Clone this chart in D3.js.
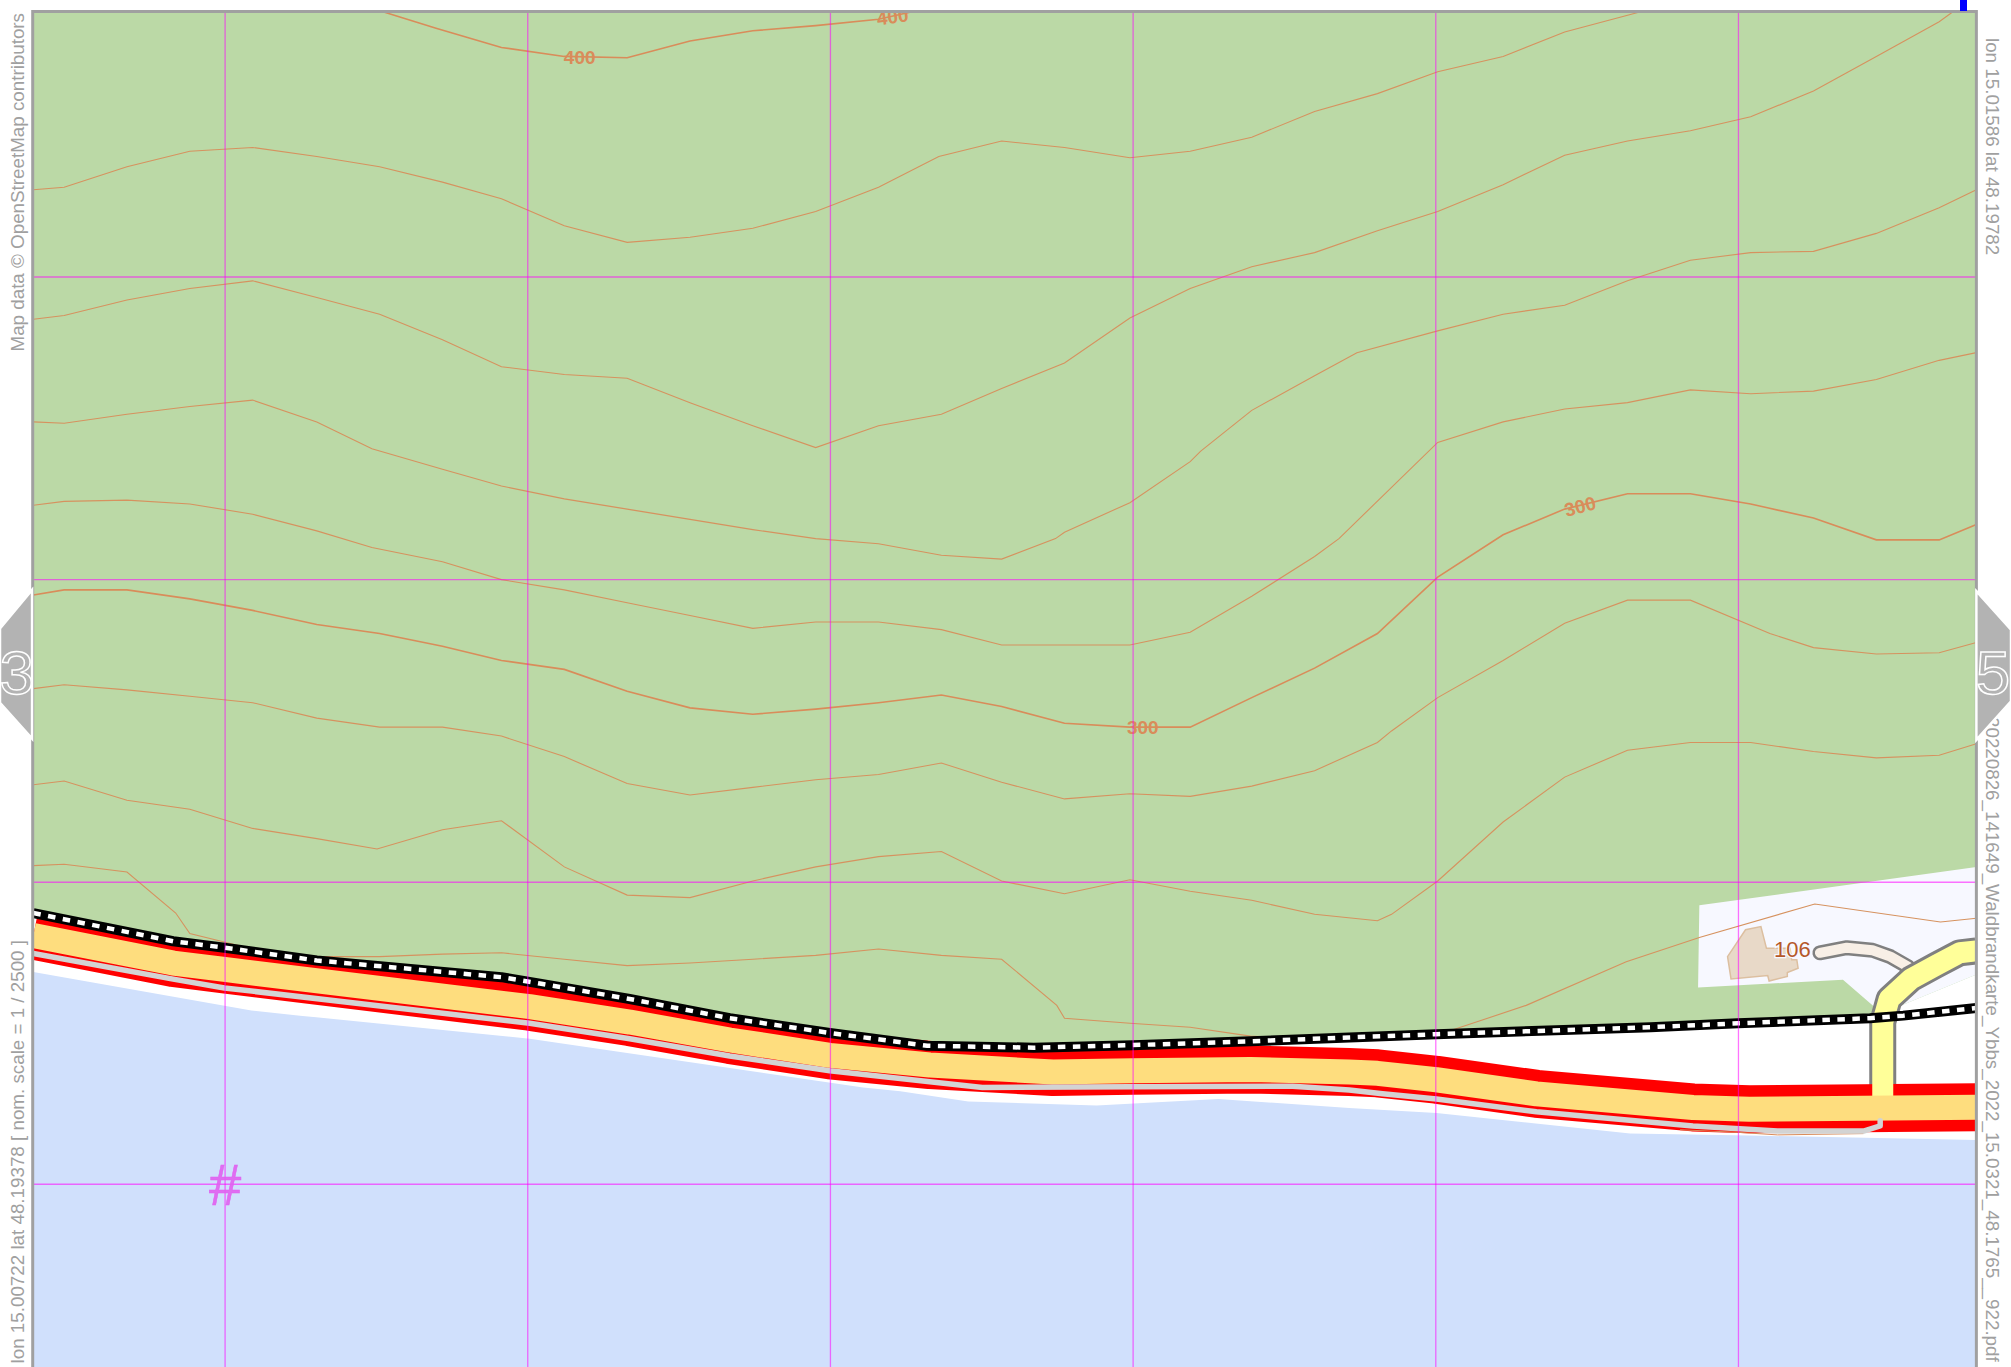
<!DOCTYPE html>
<html>
<head>
<meta charset="utf-8">
<script src="https://cdn.jsdelivr.net/npm/d3@7"></script>
<style>
  html, body { margin: 0; padding: 0; background: #fff; }
  svg { display: block; }
  text { font-family: "Liberation Sans", Arial, sans-serif; }
</style>
</head>
<body>
<svg id="map"></svg>
<script>
// all map data in sheet units
const sheetSize = [1568, 1066];
const frame = { left: 25.5, right: 1541, top: 9 };
const gridX = [175.5, 411.5, 647.5, 883.5, 1119.5, 1355.5];
const gridY = [216, 452, 688, 923.5];

const contourIndex = [
  [[298,9],[340,22],[391,37],[440,44],[489,45],[538,32],[587,24],[636,20],[685,15],[712,9]],
  [[26,464],[50,460],[99,460],[148,467],[197,476],[247,487],[296,494],[345,504],[391,515],[440,522],[489,539],[538,552],[587,557],[636,553],[685,548],[734,542],[781,551],[830,564],[881,567],[928,567],[976,544],[1025,521],[1074,494],[1121,450],[1172,417],[1220,397],[1269,385],[1318,385],[1365,393],[1414,404],[1463,421],[1512,421],[1541,409]]
];
const contourLines = [
  [[26,148],[50,146],[99,130],[148,118],[197,115],[247,122],[296,130],[345,142],[391,155],[440,176],[489,189],[538,185],[587,178],[636,165],[685,146],[732,122],[781,110],[830,115],[881,123],[928,118],[976,107],[1025,87],[1074,73],[1121,56],[1172,44],[1220,25],[1280,9]],
  [[26,249],[50,246],[99,234],[148,225],[197,219],[247,232],[296,245],[345,265],[391,286],[440,292],[489,295],[538,314],[587,332],[636,349],[685,332],[734,323],[781,303],[830,283],[881,248],[928,225],[976,208],[1025,197],[1074,180],[1121,165],[1172,144],[1220,121],[1269,110],[1318,102],[1365,91],[1414,71],[1463,44],[1512,17],[1523,9]],
  [[26,329],[50,330],[99,323],[148,317],[197,312],[247,329],[290,350],[345,366],[391,379],[440,389],[489,397],[538,405],[587,413],[636,420],[685,424],[734,433],[781,436],[823,420],[830,415],[881,392],[928,360],[936,352],[976,320],[1025,293],[1058,275],[1121,258],[1172,245],[1220,238],[1269,219],[1318,203],[1365,197],[1414,196],[1463,182],[1512,162],[1541,148]],
  [[26,394],[50,391],[99,390],[148,393],[197,401],[247,414],[290,427],[345,438],[391,452],[440,460],[489,470],[538,480],[587,490],[636,485],[685,485],[734,491],[781,503],[830,503],[881,503],[928,493],[976,465],[1025,434],[1044,420],[1121,345],[1172,329],[1220,319],[1269,314],[1318,304],[1365,307],[1414,305],[1463,296],[1512,281],[1541,275]],
  [[26,537],[50,534],[99,538],[148,543],[197,548],[247,560],[296,567],[345,567],[391,574],[440,590],[489,611],[538,620],[587,614],[636,608],[685,604],[734,595],[781,610],[830,623],[881,619],[928,621],[976,613],[1025,601],[1074,579],[1085,570],[1121,544],[1172,515],[1220,486],[1269,468],[1318,468],[1380,494],[1414,505],[1463,510],[1512,509],[1541,501]],
  [[26,612],[50,609],[99,624],[148,631],[197,646],[247,654],[294,662],[345,647],[391,640],[440,676],[489,698],[538,700],[587,687],[636,676],[685,668],[734,664],[781,687],[830,697],[881,686],[928,695],[976,702],[1025,713],[1074,718],[1085,713],[1121,687],[1172,641],[1220,606],[1269,585],[1318,579],[1365,579],[1414,586],[1463,591],[1512,589],[1541,580]],
  [[26,675],[50,674],[99,680],[137,712],[148,728],[197,740],[247,746],[296,746],[345,744],[391,743],[440,748],[489,753],[538,751],[587,748],[636,745],[685,740],[734,745],[781,748],[824,784],[830,794],[881,798],[928,801],[975,808],[1050,812],[1130,804],[1190,784],[1268,750],[1325,731],[1415,705],[1513,719],[1541,716]]
];
const contourShore = [[1310,881],[1355,883],[1386,885],[1453,884]];

const contourLabels = [["400",452,45,0],["400",696,13,-8],["300",1232,395,-15],["300",891,567,0]];

const railway = [[26,712],[135,734],[175,739],[247,749],[391,762],[421,767],[491,779],[569,794],[647,805.5],[723,815.5],[806,817],[883,815],[975,812],[1052,809],[1120,806.5],[1287,801],[1355,798],[1458,794],[1484,792],[1541,786]];
const mainRoad = [[26,729.5],[135,751],[175,756],[413,785],[491,797],[569,811],[647,823],[725,830.5],[821,836],[883,835],[975,834],[1052,836],[1074,837],[1120,842],[1198,853],[1320,863.6],[1364,865],[1541,863.5]];
const greyPath = [[26,743.6],[135,763.5],[175,770.4],[413,798],[491,810],[569,823.5],[647,835],[725,843.6],[766,848],[883,847.5],[1008,847],[1052,850],[1078,853],[1120,857],[1198,867],[1320,878],[1386,882],[1453,882],[1466,878],[1466,874]];
const sideRoad = [[1468,856],[1468,797],[1473,779],[1490,763.4],[1510,752.5],[1528,743],[1541,741.5]];
const drive = [[1419,743],[1440,739],[1460,741],[1474,746],[1488,754]];

const greenArea = [[26,9],[1541,9],[1541,760],[1497,778],[1468,790]].concat(railway.filter(p => p[0] <= 1458).reverse());
const waterArea = [[26,758],[196,788],[234,792],[413,810],[673,848],[702,851],[755,859],[855,862],[950,857],[1052,864],[1120,868],[1271,884],[1364,885.5],[1541,889],[1541,1066],[26,1066]];
const yardArea = [[1325,706],[1541,676],[1541,760],[1497,778],[1468,790],[1460,784],[1437,764],[1324,770]];
const building = [[1347,746],[1361,725],[1373,722.6],[1377.3,739.5],[1395.7,739.5],[1397,748.5],[1401,748.5],[1402,755],[1393.6,758.4],[1393.6,761.5],[1379.4,765],[1378.3,760.8],[1349.7,763.4]];

const leftTab = [[25,460],[0,490],[0,548],[25,576]];
const rightTab = [[1541,461],[1568,491],[1568,547],[1541,577]];
const tabNumbers = ["3", "5"];

const creditText = "Map data © OpenStreetMap contributors";
const cornerSW = "lon 15.00722 lat 48.19378 [ nom. scale = 1 / 2500 ]";
const cornerNE = "lon 15.01586 lat 48.19782";
const fileName = "20220826_141649_Waldbrandkarte_Ybbs_2022_15.0321_48.1765__922.pdf";

const width = 2011, height = 1367;
const x = d3.scaleLinear().domain([0, sheetSize[0]]).range([0, width]);
const y = d3.scaleLinear().domain([0, sheetSize[1]]).range([0, height]);
const line = d3.line().x(d => x(d[0])).y(d => y(d[1]));
const closed = pts => line(pts) + "Z";

const svg = d3.select("#map").attr("width", width).attr("height", height);

svg.append("clipPath").attr("id", "sheet").append("rect")
  .attr("x", x(frame.left)).attr("y", y(frame.top))
  .attr("width", x(frame.right) - x(frame.left))
  .attr("height", height);

const g = svg.append("g").attr("clip-path", "url(#sheet)");

g.append("path").attr("d", closed(waterArea)).attr("fill", "#d0e0fc");
g.append("path").attr("d", closed(greenArea)).attr("fill", "#bbd9a6");
g.append("path").attr("d", closed(yardArea)).attr("fill", "#f7f8ff");

// contours
const contourColor = "#d98c5a";
g.selectAll(".contour").data(contourLines).join("path")
  .attr("class", "contour")
  .attr("d", line).attr("fill", "none")
  .attr("stroke", "#d6925f").attr("stroke-width", 1.1);
g.selectAll(".contourIdx").data(contourIndex).join("path")
  .attr("class", "contourIdx")
  .attr("d", line).attr("fill", "none")
  .attr("stroke", contourColor).attr("stroke-width", 1.6);

g.selectAll(".clabel").data(contourLabels).join("text")
  .attr("class", "clabel")
  .attr("transform", d => `translate(${x(d[1])},${y(d[2])}) rotate(${d[3]})`)
  .attr("text-anchor", "middle").attr("dy", "0.35em")
  .attr("font-size", 19).attr("font-weight", "bold")
  .attr("fill", contourColor)
  .text(d => d[0]);

// building
g.append("path").attr("d", closed(building))
  .attr("fill", "#e8d9c8").attr("stroke", "#dcbfa0").attr("stroke-width", 1.5);

const strokePath = (pts, color, w, cap) => g.append("path").attr("d", line(pts))
  .attr("fill", "none").attr("stroke", color).attr("stroke-width", w)
  .attr("stroke-linejoin", "round").attr("stroke-linecap", cap || "butt");

// small drive under the side road
strokePath(drive, "#808080", 15, "round");
strokePath(drive, "#f8efe6", 10, "round");

strokePath(sideRoad, "#808080", 27);
strokePath(mainRoad, "#ff0000", 48);
strokePath(sideRoad, "#ffff99", 21);
strokePath(mainRoad, "#fedd7e", 25);
strokePath(contourShore, contourColor, 1);
strokePath(greyPath, "#d3d3d3", 5.5, "round");

strokePath(railway, "#000000", 10);
strokePath(railway, "#ffffff", 4.5).attr("stroke-dasharray", "7.5 7.5");

// house number
g.append("text").attr("x", x(1397.5)).attr("y", y(740)).attr("dy", "0.35em")
  .attr("text-anchor", "middle").attr("font-size", 22)
  .attr("fill", "#b5582a").attr("stroke", "#f7f8ff").attr("stroke-width", 2.5)
  .style("paint-order", "stroke").text("106");

// grid on top of everything
const gridColor = "#ff00ff";
g.selectAll(".gx").data(gridX).join("line").attr("class", "gx")
  .attr("x1", d => x(d)).attr("x2", d => x(d))
  .attr("y1", y(frame.top)).attr("y2", height)
  .attr("stroke", gridColor).attr("stroke-opacity", 0.55).attr("stroke-width", 1.3);
g.selectAll(".gy").data(gridY).join("line").attr("class", "gy")
  .attr("x1", x(frame.left)).attr("x2", x(frame.right))
  .attr("y1", d => y(d)).attr("y2", d => y(d))
  .attr("stroke", gridColor).attr("stroke-opacity", 0.55).attr("stroke-width", 1.3);

g.append("text").attr("x", x(gridX[0])).attr("y", y(gridY[3])).attr("dy", "0.35em")
  .attr("text-anchor", "middle").attr("font-size", 58)
  .attr("fill", "#e060f0").attr("fill-opacity", 0.9)
  .attr("stroke", "#e060f0").attr("stroke-width", 0.5).text("#");

// frame
svg.append("path")
  .attr("d", `M${x(frame.left)},${height}V${y(frame.top)}H${x(frame.right)}V${height}`)
  .attr("fill", "none").attr("stroke", "#a0a0a0").attr("stroke-width", 3);

svg.append("rect").attr("x", 1960).attr("y", 0).attr("width", 7).attr("height", 11).attr("fill", "#0000ff");

// margin text
const marginText = (txt, px, py, angle, anchor) => svg.append("text")
  .attr("transform", `translate(${px},${py}) rotate(${angle})`)
  .attr("text-anchor", anchor)
  .attr("font-size", 18.8).attr("fill", "#a0a0a0")
  .text(txt);
marginText(creditText, 23.5, 351.5, -90, "start");
marginText(cornerSW, 23.5, 940, -90, "end");
marginText(cornerNE, 1985.5, 38, 90, "start");
marginText(fileName, 1985.5, 717, 90, "start");

// page tabs
svg.selectAll(".tab").data([leftTab, rightTab]).join("path")
  .attr("class", "tab").attr("d", closed)
  .attr("fill", "#b3b3b3").attr("stroke", "#ffffff").attr("stroke-width", 2.5);

svg.selectAll(".tabnum").data(tabNumbers).join("text")
  .attr("class", "tabnum")
  .attr("x", (d, i) => i === 0 ? x(13) : x(1554)).attr("y", y(524)).attr("dy", "0.36em")
  .attr("text-anchor", "middle").attr("font-size", 62)
  .attr("fill", "#b3b3b3").attr("stroke", "#ffffff").attr("stroke-width", 1.5)
  .text(d => d);
</script>
</body>
</html>
